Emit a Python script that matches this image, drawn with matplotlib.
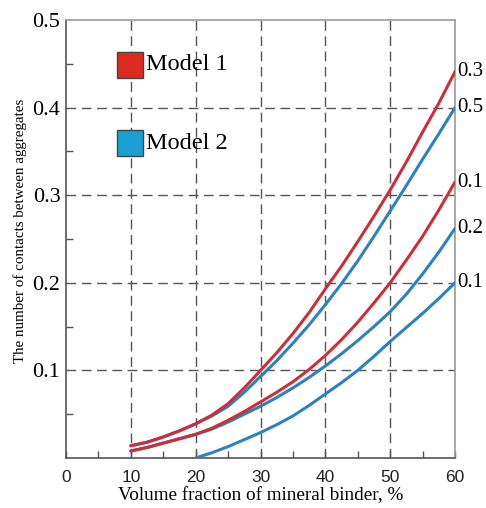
import matplotlib
matplotlib.use("Agg")
import matplotlib.pyplot as plt
from matplotlib.patches import Rectangle

# data
x_full = [10, 12.5, 15, 17.5, 20, 22.5, 25, 27.5, 30, 32.5, 35, 37.5, 40,
          42.5, 45, 47.5, 50, 52.5, 55, 57.5, 60]
red_upper = [0.014, 0.018, 0.024, 0.031, 0.039, 0.049, 0.062, 0.080, 0.100, 0.120, 0.142,
             0.166, 0.193, 0.219, 0.247, 0.276, 0.306, 0.338, 0.372, 0.405, 0.441]
blue_upper = [0.014, 0.018, 0.024, 0.031, 0.039, 0.048, 0.059, 0.075, 0.093, 0.111, 0.131,
              0.152, 0.175, 0.199, 0.225, 0.253, 0.282, 0.311, 0.341, 0.370, 0.400]
red_lower = [0.008, 0.012, 0.017, 0.022, 0.027, 0.034, 0.043, 0.053, 0.064, 0.075, 0.087,
             0.101, 0.117, 0.135, 0.155, 0.177, 0.200, 0.226, 0.253, 0.283, 0.315]
blue_mid = [0.008, 0.012, 0.017, 0.022, 0.027, 0.033, 0.041, 0.050, 0.059, 0.069, 0.080,
            0.092, 0.105, 0.119, 0.134, 0.150, 0.167, 0.187, 0.210, 0.235, 0.262]
x_low = [20, 22.5, 25, 27.5, 30, 32.5, 35, 37.5, 40, 42.5, 45, 47.5, 50, 52.5, 55, 57.5, 60]
blue_low = [0.000, 0.006, 0.013, 0.021, 0.029, 0.038, 0.048, 0.060, 0.073, 0.086, 0.100,
            0.116, 0.133, 0.149, 0.165, 0.182, 0.200]

end_labels = ["0.3", "0.5", "0.1", "0.2", "0.1"]
x_ticks = [0, 10, 20, 30, 40, 50, 60]
y_ticks = [0.1, 0.2, 0.3, 0.4, 0.5]
legend_names = ["Model 1", "Model 2"]

RED = "#c9303a"
BLUE = "#2f80c0"

fig = plt.figure(figsize=(4.86, 5.08), dpi=100)
ax = fig.add_axes([66/486, 50/508, (455-66)/486, (458-20)/508])
ax.set_xlim(0, 60)
ax.set_ylim(0, 0.5)

# grid
for gx in [10, 20, 30, 40, 50]:
    ax.axvline(gx, color="#555555", lw=1.0, ls=(0, (7, 4)), zorder=1)
for gy in [0.1, 0.2, 0.3, 0.4]:
    ax.axhline(gy, color="#555555", lw=1.0, ls=(0, (7, 4)), zorder=1)

# series
kw = dict(lw=2.2, zorder=3, solid_capstyle="round", solid_joinstyle="round")
ax.plot(x_full, blue_mid, color=BLUE, **kw)
ax.plot(x_full, red_lower, color=RED, **kw)
ax.plot(x_full, blue_upper, color=BLUE, **kw)
ax.plot(x_full, red_upper, color=RED, **kw)
ax.plot(x_low, blue_low, color=BLUE, **kw)

# end labels
ends = [red_upper[-1], blue_upper[-1], red_lower[-1], blue_mid[-1], blue_low[-1]]
for lab, yv in zip(end_labels, ends):
    ax.text(60.3, yv, lab, fontsize=15, family="Liberation Serif", va="center", ha="left",
            clip_on=False)

# ticks
ax.set_xticks(x_ticks)
ax.set_xticklabels([str(t) for t in x_ticks], fontsize=12.5, family="Liberation Sans",
                   color="#222222")
ax.set_xticks([5, 15, 25, 35, 45, 55], minor=True)
ax.set_yticks(y_ticks)
ax.set_yticklabels([f"{t:.1f}" for t in y_ticks], fontsize=16, family="Liberation Serif")
ax.set_yticks([0.05, 0.15, 0.25, 0.35, 0.45], minor=True)
ax.tick_params(axis="x", which="both", direction="in", length=5, width=1, color="#555555", pad=9)
ax.tick_params(axis="y", which="major", length=0, pad=4)
ax.tick_params(axis="y", which="minor", direction="in", length=5, width=1, color="#555555")

for s in ["left", "bottom"]:
    ax.spines[s].set_color("#555555")
    ax.spines[s].set_linewidth(1.2)
for s in ["top", "right"]:
    ax.spines[s].set_color("#999999")
    ax.spines[s].set_linewidth(1.2)

ax.set_xlabel("Volume fraction of mineral binder, %", fontsize=13.8, family="Liberation Serif")
ax.xaxis.set_label_coords(0.5, -0.066)
ax.set_ylabel("The number of contacts between aggregates", fontsize=10.8, family="Liberation Serif")
ax.yaxis.set_label_coords(-0.1, 0.518)

# legend boxes
leg_colors = ["#dd2a1f", "#1ba0d5"]
leg_y = [0.868, 0.689]
for name, c, yy in zip(legend_names, leg_colors, leg_y):
    ax.add_patch(Rectangle((0.131, yy), 0.067, 0.059, transform=ax.transAxes,
                           facecolor=c, edgecolor="#444444", lw=1, zorder=4))
    ax.text(0.205, yy + 0.03, name, transform=ax.transAxes, fontsize=17.5,
            family="Liberation Serif", va="center", ha="left", zorder=4)

fig.savefig("out.png", dpi=100)
